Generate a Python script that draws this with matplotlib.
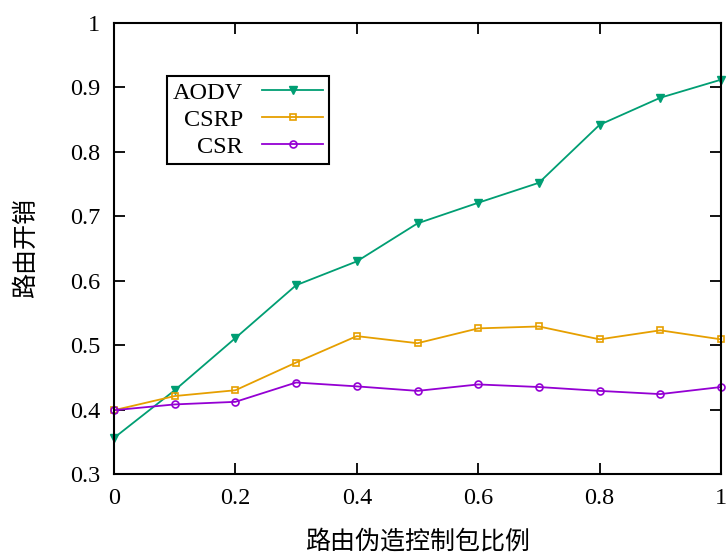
import matplotlib
matplotlib.use('Agg')
import matplotlib.pyplot as plt
from matplotlib.ticker import FuncFormatter

# Données
ratio = [0.0, 0.1, 0.2, 0.3, 0.4, 0.5, 0.6, 0.7, 0.8, 0.9, 1.0]
aodv = [0.356, 0.430, 0.511, 0.593, 0.630, 0.689, 0.721, 0.752, 0.842, 0.884, 0.912]
csrp = [0.399, 0.421, 0.430, 0.473, 0.514, 0.503, 0.526, 0.529, 0.509, 0.523, 0.509]
csr = [0.399, 0.408, 0.412, 0.442, 0.436, 0.429, 0.439, 0.435, 0.429, 0.424, 0.435]

xticks = [0, 0.2, 0.4, 0.6, 0.8, 1.0]
yticks = [0.3, 0.4, 0.5, 0.6, 0.7, 0.8, 0.9, 1.0]

serif = ['Liberation Serif', 'DejaVu Serif']
cjk = ['Noto Sans CJK SC', 'DejaVu Sans']

fig = plt.figure(figsize=(7.28, 5.57), dpi=100)
ax = fig.add_axes([114 / 728, 1 - 474 / 557, (721 - 114) / 728, (474 - 23) / 557])

ax.plot(ratio, aodv, '-v', color='#009e73', lw=1.3, ms=5.5, label='AODV', clip_on=False)
ax.plot(ratio, csrp, '-s', color='#e69f00', lw=1.3, ms=5, mfc='none', mew=1.2,
        label='CSRP', clip_on=False)
ax.plot(ratio, csr, '-o', color='#9400d3', lw=1.3, ms=5, mfc='none', mew=1.2,
        label='CSR', clip_on=False)

ax.set_xlim(0, 1)
ax.set_ylim(0.3, 1)
ax.set_xticks(xticks)
ax.set_yticks(yticks)
fmt = FuncFormatter(lambda v, p: '%g' % round(v, 2))
ax.xaxis.set_major_formatter(fmt)
ax.yaxis.set_major_formatter(fmt)
ax.tick_params(direction='in', length=8, width=1.3, top=True, right=True,
               labelsize=17.5, pad=10)
for lab in ax.get_xticklabels() + ax.get_yticklabels():
    lab.set_fontfamily(serif)
for s in ax.spines.values():
    s.set_linewidth(1.5)

ax.set_xlabel('路由伪造控制包比例', fontsize=18, family=cjk, weight='light', labelpad=14)
ax.set_ylabel('路由开销', fontsize=18, family=cjk, weight='light', labelpad=22)

leg = ax.legend(loc='upper left', bbox_to_anchor=(0.087, 0.883), borderaxespad=0,
                markerfirst=False, fancybox=False, edgecolor='black', framealpha=1,
                prop={'family': serif, 'size': 17.5}, handlelength=2.5,
                labelspacing=0.2, borderpad=0.25, handletextpad=0.8)
leg.get_frame().set_linewidth(1.5)

fig.savefig('out.png', dpi=100)
